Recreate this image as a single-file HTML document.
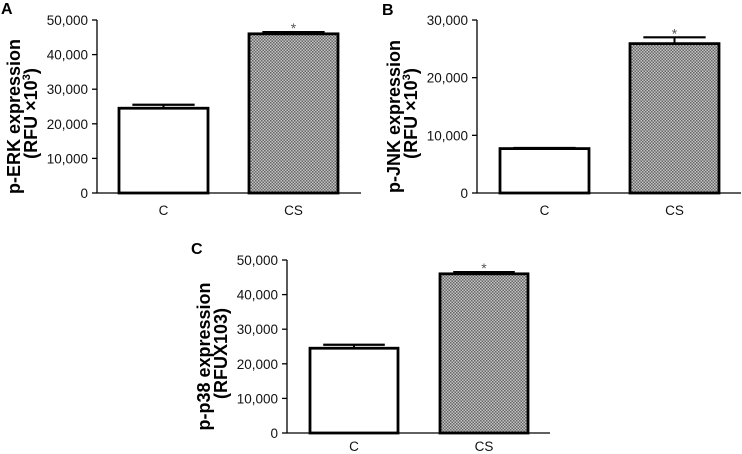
<!DOCTYPE html>
<html><head><meta charset="utf-8"><style>
html,body{margin:0;padding:0;background:#fff;}
svg{display:block;font-family:"Liberation Sans",Arial,sans-serif;}
</style></head><body>
<svg id="fig" width="742" height="454" viewBox="0 0 742 454">
<defs>
<pattern id="chk" width="3" height="3" patternUnits="userSpaceOnUse">
<rect width="3" height="3" fill="#c4c4c4"/>
<rect width="1.5" height="1.5" fill="#666"/>
<rect x="1.5" y="1.5" width="1.5" height="1.5" fill="#666"/>
</pattern>
</defs>
</svg>
<script>
const categories = ["C", "CS"];
const erkValues = [24500, 46000];
const erkErrors = [1000, 500];
const jnkValues = [7700, 25900];
const jnkErrors = [100, 1100];
const p38Values = [24500, 46000];
const p38Errors = [1000, 500];
const erkTicks = [0, 10000, 20000, 30000, 40000, 50000];
const jnkTicks = [0, 10000, 20000, 30000];
const p38Ticks = [0, 10000, 20000, 30000, 40000, 50000];

const NS = "http://www.w3.org/2000/svg";
const svg = document.getElementById("fig");
function mk(tag, attrs, parent) {
  const e = document.createElementNS(NS, tag);
  for (const k in attrs) e.setAttribute(k, attrs[k]);
  (parent || svg).appendChild(e);
  return e;
}
function fmt(v) { return v.toLocaleString("en-US"); }

function panel(cfg) {
  const g = mk("g", {});
  
  
  const ymax = cfg.ticks[cfg.ticks.length - 1];
  const y = v => cfg.y0 - (v / ymax) * (cfg.y0 - cfg.yTop);
  const lbl = mk("text", {x: cfg.lx, y: cfg.ly, "font-size": 16, "font-weight": "bold"}, g);
  lbl.textContent = cfg.letter;
  
  
  const yAxis = mk("line", {x1: cfg.ax, y1: cfg.yTop, x2: cfg.ax, y2: cfg.y0, stroke: "#000", "stroke-width": 1.3}, g);
  
  
  const xAxis = mk("line", {x1: cfg.ax, y1: cfg.y0, x2: cfg.axEnd, y2: cfg.y0, stroke: "#000", "stroke-width": 1.3}, g);
  
  
  cfg.ticks.forEach(t => {
    mk("line", {x1: cfg.ax - 5, y1: y(t), x2: cfg.ax, y2: y(t), stroke: "#000", "stroke-width": 1.3}, g);
    const tl = mk("text", {x: cfg.ax - 9, y: y(t) + 5, "font-size": 13.5, "text-anchor": "end", fill: "#111"}, g);
    tl.textContent = fmt(t);
    
    
  });
  const cy = (cfg.yTop + cfg.y0) / 2 + 10;
  const tt = mk("text", {transform: `translate(${cfg.ax - 77},${cy}) rotate(-90)`, "font-size": 18, "font-weight": "bold", "text-anchor": "middle"}, g);
  tt.textContent = cfg.title1;
  
  
  const t2 = mk("text", {transform: `translate(${cfg.ax - 60},${cy - 3}) rotate(-90)`, "font-size": 18, "font-weight": "bold", "text-anchor": "middle"}, g);
  t2.innerHTML = cfg.title2;
  
  
  categories.forEach((c, i) => {
    const x0 = cfg.ax + cfg.off + i * cfg.step;
    const top = y(cfg.vals[i]);
    const et = y(cfg.vals[i] + cfg.errs[i]);
    const cx = x0 + cfg.bw / 2;
    const eb = mk("line", {x1: cx, y1: top, x2: cx, y2: et, stroke: "#000", "stroke-width": 2}, g);
    
    
    const cap = mk("line", {x1: cx - cfg.bw * 0.35, y1: et, x2: cx + cfg.bw * 0.35, y2: et, stroke: "#000", "stroke-width": 2.2}, g);
    
    
    const r = mk("rect", {x: x0, y: top, width: cfg.bw, height: cfg.y0 - top, fill: i ? "url(#chk)" : "#fff", stroke: "#000", "stroke-width": 2.8}, g);
    
    
    const xl = mk("text", {x: cx, y: cfg.y0 + cfg.xly, "font-size": 13.5, "text-anchor": "middle", fill: "#111"}, g);
    xl.textContent = c;
    
    
    if (i === 1) {
      const s = mk("text", {x: cx, y: et + 1, "font-size": 14, "text-anchor": "middle", fill: "#555"}, g);
      s.textContent = "*";
      
      
    }
  });
}

const sup = "(RFU ×10<tspan font-size='11' dy='-7'>3</tspan><tspan dy='7'>)</tspan>";
panel({letter: "A", lx: 1, ly: 14, ax: 97, axEnd: 361, yTop: 20, y0: 193, off: 22, step: 130, bw: 89, xly: 22,
  ticks: erkTicks, vals: erkValues, errs: erkErrors, title1: "p-ERK expression", title2: sup});
panel({letter: "B", lx: 382, ly: 15, ax: 477, axEnd: 741, yTop: 20, y0: 193, off: 23, step: 130, bw: 89, xly: 22,
  ticks: jnkTicks, vals: jnkValues, errs: jnkErrors, title1: "p-JNK expression", title2: sup});
panel({letter: "C", lx: 191, ly: 254, ax: 287, axEnd: 550, yTop: 260, y0: 433, off: 23, step: 130, bw: 88, xly: 18,
  ticks: p38Ticks, vals: p38Values, errs: p38Errors, title1: "p-p38 expression", title2: "(RFUX103)"});
</script>
</body></html>
